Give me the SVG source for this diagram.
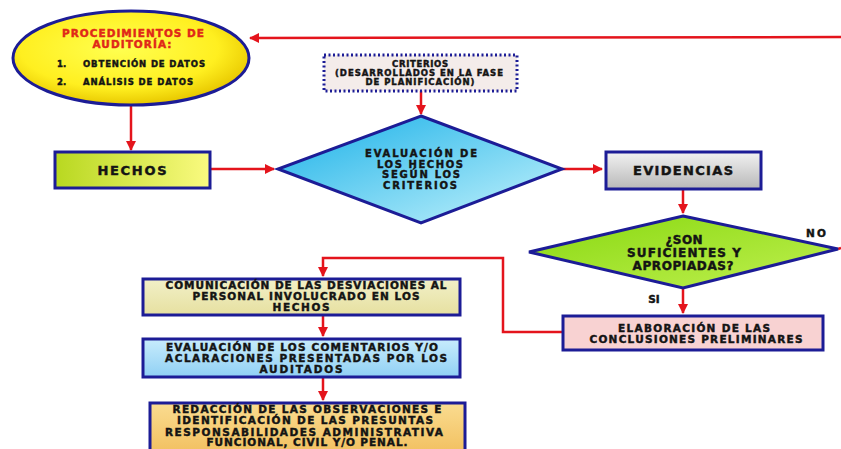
<svg xmlns="http://www.w3.org/2000/svg" width="841" height="449" viewBox="0 0 841 449">
<defs>
<radialGradient id="gEll" cx="0.45" cy="0.4" r="0.6"><stop offset="0" stop-color="#ffff50"/><stop offset="0.7" stop-color="#ffef20"/><stop offset="1" stop-color="#e8c800"/></radialGradient>
<linearGradient id="gHech" x1="0" y1="0" x2="1" y2="0"><stop offset="0" stop-color="#b8d820"/><stop offset="1" stop-color="#fafa80"/></linearGradient>
<linearGradient id="gEvalD" x1="0" y1="0" x2="1" y2="1"><stop offset="0" stop-color="#18b0e8"/><stop offset="1" stop-color="#c8f4fc"/></linearGradient>
<linearGradient id="gEvid" x1="0" y1="0" x2="0" y2="1"><stop offset="0" stop-color="#f2f2f2"/><stop offset="1" stop-color="#b8b8b8"/></linearGradient>
<linearGradient id="gSon" x1="0" y1="0" x2="1" y2="1"><stop offset="0" stop-color="#88d810"/><stop offset="1" stop-color="#c0f050"/></linearGradient>
<linearGradient id="gCom" x1="0" y1="0" x2="0" y2="1"><stop offset="0" stop-color="#f2f0c8"/><stop offset="1" stop-color="#e6e0a0"/></linearGradient>
<linearGradient id="gCmt" x1="0" y1="0" x2="0" y2="1"><stop offset="0" stop-color="#c8ecfc"/><stop offset="1" stop-color="#90d0f4"/></linearGradient>
<linearGradient id="gRed" x1="0" y1="0" x2="0" y2="1"><stop offset="0" stop-color="#fadc90"/><stop offset="1" stop-color="#f2c060"/></linearGradient>
<marker id="ah" viewBox="0 0 10 10" refX="9" refY="5" markerWidth="4" markerHeight="4" orient="auto" markerUnits="strokeWidth"><path d="M0,0 L10,5 L0,10 z" fill="#e4141c"/></marker>
</defs>
<style>
.t{font-family:"DejaVu Sans","Liberation Sans",Arial,sans-serif;font-weight:bold;fill:#141414;text-anchor:middle;stroke:#141414;stroke-width:0.45}
.s{text-anchor:start}
.r{fill:#e02818;stroke:#e02818}
.b{stroke:#1c1c96;stroke-width:3}
.c{fill:none;stroke:#e4141c;stroke-width:2.5}
</style>
<rect width="841" height="449" fill="#ffffff"/>
<g id="connectors">
<path class="c" d="M841,37 L250,38" marker-end="url(#ah)"/>
<path class="c" d="M131,106 L131,150" marker-end="url(#ah)"/>
<path class="c" d="M210,169 L274,169" marker-end="url(#ah)"/>
<path class="c" d="M421,91 L421,114" marker-end="url(#ah)"/>
<path class="c" d="M562,169 L602,169" marker-end="url(#ah)"/>
<path class="c" d="M683,189 L683,213" marker-end="url(#ah)"/>
<path class="c" d="M838,249 L841,248"/>
<path class="c" d="M683,288 L683,313" marker-end="url(#ah)"/>
<path class="c" d="M562,332 L503,332 L503,258 L323,258 L323,276" marker-end="url(#ah)"/>
<path class="c" d="M323,316 L323,336" marker-end="url(#ah)"/>
<path class="c" d="M323,378 L323,400" marker-end="url(#ah)"/>
</g>
<g id="procedimientos">
<ellipse cx="131" cy="58" rx="118" ry="47" fill="url(#gEll)" class="b"/>
<text class="t r" x="133" y="37" font-size="10.5" textLength="142" lengthAdjust="spacing">PROCEDIMIENTOS DE</text>
<text class="t r" x="132" y="48" font-size="10.5" textLength="79" lengthAdjust="spacing">AUDITORÍA:</text>
<text class="t s" x="57" y="67" font-size="8.5">1.</text>
<text class="t s" x="83" y="67" font-size="8.5" textLength="122" lengthAdjust="spacing">OBTENCIÓN DE DATOS</text>
<text class="t s" x="57" y="85" font-size="8.5">2.</text>
<text class="t s" x="83" y="85" font-size="8.5" textLength="110" lengthAdjust="spacing">ANÁLISIS DE DATOS</text>
</g>
<g id="hechos">
<rect x="55" y="152" width="155" height="36" fill="url(#gHech)" class="b"/>
<text class="t" x="132" y="175" font-size="13" textLength="69" lengthAdjust="spacing">HECHOS</text>
</g>
<g id="criterios">
<rect x="324" y="55" width="193" height="36" fill="#f4ecea" stroke="#1c1c96" stroke-width="3" stroke-dasharray="2,2.5"/>
<text class="t" x="420" y="67" font-size="8.5" textLength="56" lengthAdjust="spacing">CRITERIOS</text>
<text class="t" x="419" y="76" font-size="8.5" textLength="168" lengthAdjust="spacing">(DESARROLLADOS EN LA FASE</text>
<text class="t" x="420" y="85" font-size="8.5" textLength="109" lengthAdjust="spacing">DE PLANIFICACIÓN)</text>
</g>
<g id="evaluacion-hechos">
<polygon points="421,116 562,169 421,223 278,169" fill="url(#gEvalD)" class="b"/>
<text class="t" x="421" y="157" font-size="10" textLength="112" lengthAdjust="spacing">EVALUACIÓN DE</text>
<text class="t" x="420" y="167.7" font-size="10" textLength="86" lengthAdjust="spacing">LOS HECHOS</text>
<text class="t" x="421" y="178.4" font-size="10" textLength="78" lengthAdjust="spacing">SEGÚN LOS</text>
<text class="t" x="420" y="189.1" font-size="10" textLength="74" lengthAdjust="spacing">CRITERIOS</text>
</g>
<g id="evidencias">
<rect x="606" y="152" width="155" height="37" fill="url(#gEvid)" class="b"/>
<text class="t" x="683" y="175" font-size="13" textLength="100" lengthAdjust="spacing">EVIDENCIAS</text>
</g>
<g id="suficientes">
<polygon points="683,216 838,249 683,288 529,252" fill="url(#gSon)" class="b"/>
<text class="t" x="684" y="244" font-size="12" textLength="37" lengthAdjust="spacing">¿SON</text>
<text class="t" x="684" y="257" font-size="12" textLength="114" lengthAdjust="spacing">SUFICIENTES Y</text>
<text class="t" x="683" y="270" font-size="12" textLength="101" lengthAdjust="spacing">APROPIADAS?</text>
<text class="t" x="816" y="237" font-size="10.5" textLength="20" lengthAdjust="spacing">NO</text>
<text class="t" x="654" y="303" font-size="10.5">SI</text>
</g>
<g id="elaboracion">
<rect x="563" y="316" width="260" height="34" fill="#f8d2d2" class="b"/>
<text class="t" x="694" y="332" font-size="10.5" textLength="152" lengthAdjust="spacing">ELABORACIÓN DE LAS</text>
<text class="t" x="696" y="343" font-size="10.5" textLength="213" lengthAdjust="spacing">CONCLUSIONES PRELIMINARES</text>
</g>
<g id="comunicacion">
<rect x="143" y="279" width="317" height="36" fill="url(#gCom)" class="b"/>
<text class="t" x="306" y="289" font-size="10.5" textLength="281" lengthAdjust="spacing">COMUNICACIÓN DE LAS DESVIACIONES AL</text>
<text class="t" x="306" y="300" font-size="10.5" textLength="227" lengthAdjust="spacing">PERSONAL  INVOLUCRADO EN LOS</text>
<text class="t" x="301" y="311" font-size="10.5" textLength="57" lengthAdjust="spacing">HECHOS</text>
</g>
<g id="comentarios">
<rect x="143" y="339" width="317" height="38" fill="url(#gCmt)" class="b"/>
<text class="t" x="302" y="351" font-size="10.5" textLength="272" lengthAdjust="spacing">EVALUACIÓN DE LOS COMENTARIOS Y/O</text>
<text class="t" x="306" y="362" font-size="10.5" textLength="282" lengthAdjust="spacing">ACLARACIONES PRESENTADAS POR LOS</text>
<text class="t" x="301" y="372.5" font-size="10.5" textLength="83" lengthAdjust="spacing">AUDITADOS</text>
</g>
<g id="redaccion">
<rect x="150" y="403" width="315" height="50" fill="url(#gRed)" class="b"/>
<text class="t" x="307" y="413" font-size="10.5" textLength="269" lengthAdjust="spacing">REDACCIÓN DE LAS OBSERVACIONES E</text>
<text class="t" x="305" y="424" font-size="10.5" textLength="256" lengthAdjust="spacing">IDENTIFICACIÓN DE LAS PRESUNTAS</text>
<text class="t" x="304" y="435.5" font-size="10.5" textLength="278" lengthAdjust="spacing">RESPONSABILIDADES ADMINISTRATIVA</text>
<text class="t" x="307" y="446" font-size="10.5" textLength="201" lengthAdjust="spacing">FUNCIONAL, CIVIL Y/O PENAL.</text>
</g>
</svg>
